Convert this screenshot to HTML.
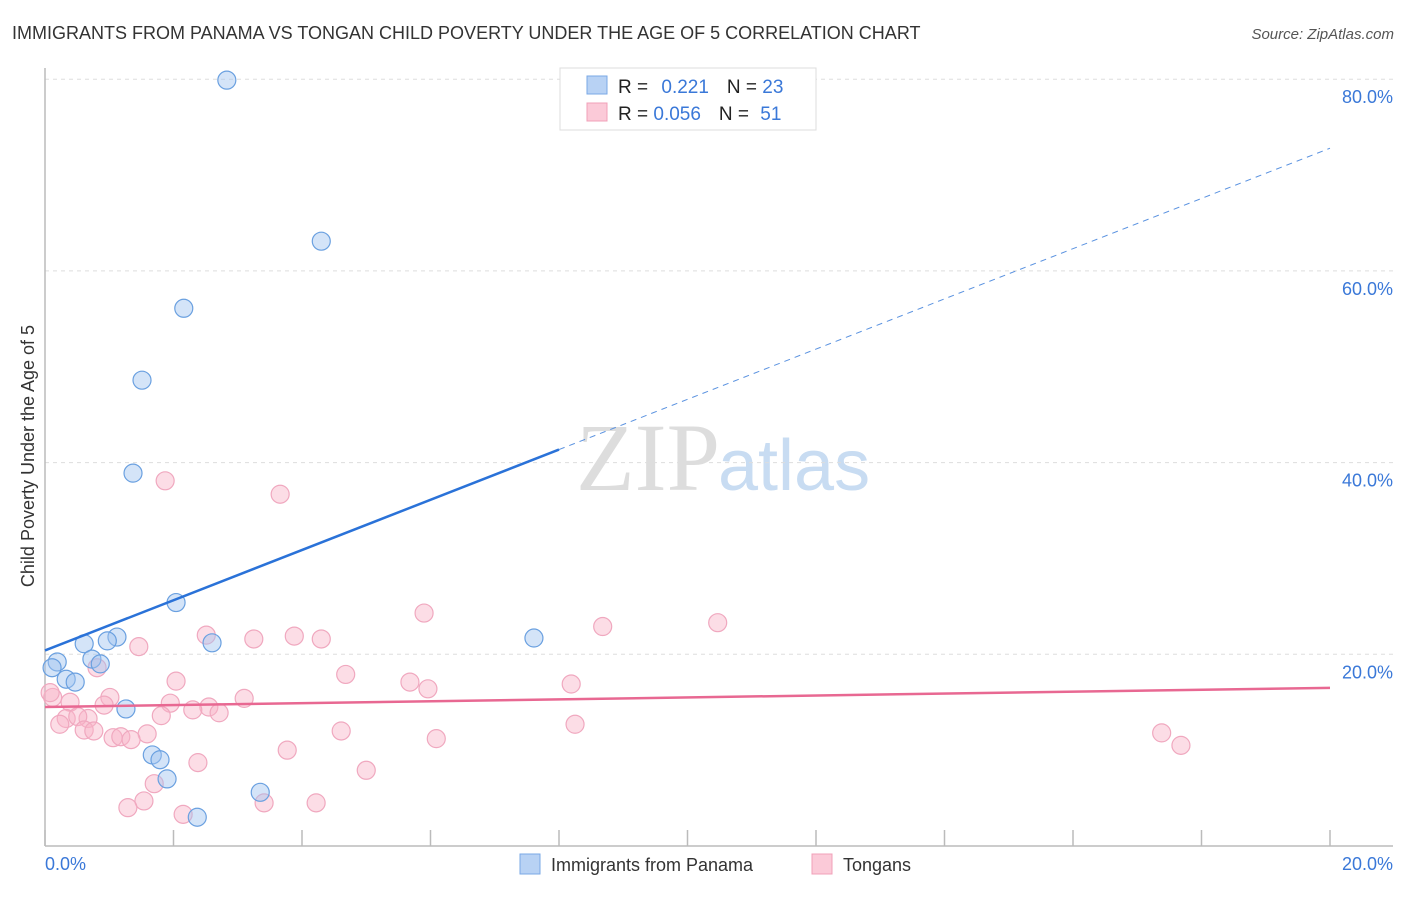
<!DOCTYPE html>
<html><head><meta charset="utf-8"><style>
body{margin:0;background:#fff;font-family:"Liberation Sans",sans-serif}
</style></head><body>
<svg width="1406" height="892" xmlns="http://www.w3.org/2000/svg" font-family="Liberation Sans, sans-serif">
<text x="12" y="39" font-size="18" fill="#333">IMMIGRANTS FROM PANAMA VS TONGAN CHILD POVERTY UNDER THE AGE OF 5 CORRELATION CHART</text>
<text x="1394" y="39" font-size="15" fill="#555" font-style="italic" text-anchor="end">Source: ZipAtlas.com</text>
<text x="720" y="490" font-size="96" fill="#ddd" text-anchor="end" font-family="Liberation Serif, serif">ZIP</text>
<text x="718" y="490" font-size="72" fill="#c8dcf2">atlas</text>
<g id="grid"></g>
<g id="axes"></g>
<g id="marks"></g>
<text transform="translate(34,456) rotate(-90)" font-size="18" fill="#333" text-anchor="middle">Child Poverty Under the Age of 5</text>
<text x="45" y="870" font-size="18" fill="#3a78d8">0.0%</text>
<text x="1393" y="870" font-size="18" fill="#3a78d8" text-anchor="end">20.0%</text>
<g>
<rect x="560" y="68" width="256" height="62" fill="#fff" stroke="#ddd"/>
<rect x="587" y="76" width="20" height="18" fill="#b8d2f4" stroke="#7aa8e6"/>
<rect x="587" y="103" width="20" height="18" fill="#fbcad8" stroke="#f0a0b8"/>
<text x="618" y="93" font-size="19" fill="#222">R = <tspan fill="#3a78d8" dx="8">0.221</tspan><tspan dx="18" fill="#222">N = </tspan><tspan fill="#3a78d8">23</tspan></text>
<text x="618" y="120" font-size="19" fill="#222">R = <tspan fill="#3a78d8">0.056</tspan><tspan dx="18" fill="#222">N = </tspan><tspan fill="#3a78d8" dx="6">51</tspan></text>
</g>
<g>
<rect x="520" y="854" width="20" height="20" fill="#b8d2f4" stroke="#7aa8e6"/>
<text x="551" y="871" font-size="18" fill="#333">Immigrants from Panama</text>
<rect x="812" y="854" width="20" height="20" fill="#fbcad8" stroke="#f0a0b8"/>
<text x="843" y="871" font-size="18" fill="#333">Tongans</text>
</g>
</svg>
<script>
const yTicks=[20,40,60,80];
const yTickLabels=["20.0%","40.0%","60.0%","80.0%"];
const xTicks=[0,2,4,6,8,10,12,14,16,18,20];
const panamaX=[2.83,4.30,2.16,1.51,1.37,2.04,7.61,1.12,0.97,0.61,2.60,0.73,0.86,0.19,0.11,0.33,0.47,1.26,1.67,1.79,1.90,3.35,2.37];
const panamaY=[79.9,63.1,56.1,48.6,38.9,25.4,21.7,21.8,21.4,21.1,21.2,19.5,19.0,19.2,18.6,17.4,17.1,14.3,9.5,9.0,7.0,5.6,3.0];
const tonganX=[1.87,3.66,5.90,8.68,10.47,2.51,3.25,3.88,4.30,1.46,0.81,4.68,2.04,5.68,5.96,8.19,1.01,3.10,0.12,0.39,0.92,1.95,2.55,2.30,2.71,1.81,0.33,0.67,0.23,0.51,0.61,0.76,8.25,4.61,1.59,1.06,1.18,1.34,17.38,17.68,3.77,6.09,2.38,1.70,5.00,1.54,1.29,3.41,4.22,2.15,0.08];
const tonganY=[38.1,36.7,24.3,22.9,23.3,22.0,21.6,21.9,21.6,20.8,18.6,17.9,17.2,17.1,16.4,16.9,15.5,15.4,15.5,15.0,14.7,14.9,14.5,14.2,13.9,13.6,13.3,13.3,12.7,13.5,12.1,12.0,12.7,12.0,11.7,11.3,11.4,11.1,11.8,10.5,10.0,11.2,8.7,6.5,7.9,4.7,4.0,4.5,4.5,3.3,16.0];
const panamaTrend=[20.4,72.8];
const panamaSolidEnd=8.0;
const tonganTrend=[14.5,16.5];

const NS="http://www.w3.org/2000/svg";
const sx=v=>45+v/20*1285;
const sy=v=>846-v/20*191.7;
function mk(tag,attrs,parent){const e=document.createElementNS(NS,tag);for(const k in attrs)e.setAttribute(k,attrs[k]);document.getElementById(parent).appendChild(e);return e;}
yTicks.forEach((t,i)=>{
 const g=mk('line',{x1:45,x2:1393,y1:sy(t),y2:sy(t),stroke:'#ddd','stroke-dasharray':'4,4'},'grid');
 
 
 const l=mk('text',{x:1393,y:sy(t)+24,'font-size':18,fill:'#3a78d8','text-anchor':'end'},'axes');
 l.textContent=yTickLabels[i];
 
 
});
const ya=mk('line',{x1:45,x2:45,y1:68,y2:846,stroke:'#bbb','stroke-width':1.5},'axes');


const xa=mk('line',{x1:45,x2:1393,y1:846,y2:846,stroke:'#bbb','stroke-width':1.5},'axes');


xTicks.forEach(t=>{
 const k=mk('line',{x1:sx(t),x2:sx(t),y1:830,y2:846,stroke:'#bbb','stroke-width':1.5},'axes');
 
 
});
tonganX.forEach((x,i)=>{
 const c=mk('circle',{cx:sx(x),cy:sy(tonganY[i]),r:9,fill:'rgba(248,180,200,0.45)',stroke:'#f0a8bf','stroke-width':1.2},'marks');
 
 
});
panamaX.forEach((x,i)=>{
 const c=mk('circle',{cx:sx(x),cy:sy(panamaY[i]),r:9,fill:'rgba(160,196,240,0.45)',stroke:'#6aa0e0','stroke-width':1.2},'marks');
 
 
});
const pAt=x=>panamaTrend[0]+(panamaTrend[1]-panamaTrend[0])*x/20;
const t1=mk('line',{x1:sx(0),y1:sy(pAt(0)),x2:sx(panamaSolidEnd),y2:sy(pAt(panamaSolidEnd)),stroke:'#2a72d8','stroke-width':2.5},'marks');


const t2=mk('line',{x1:sx(panamaSolidEnd),y1:sy(pAt(panamaSolidEnd)),x2:sx(20),y2:sy(pAt(20)),stroke:'#5a92e0','stroke-width':1,'stroke-dasharray':'6,5'},'marks');


const t3=mk('line',{x1:sx(0),y1:sy(tonganTrend[0]),x2:sx(20),y2:sy(tonganTrend[1]),stroke:'#e86892','stroke-width':2.5},'marks');


</script>
</body></html>
